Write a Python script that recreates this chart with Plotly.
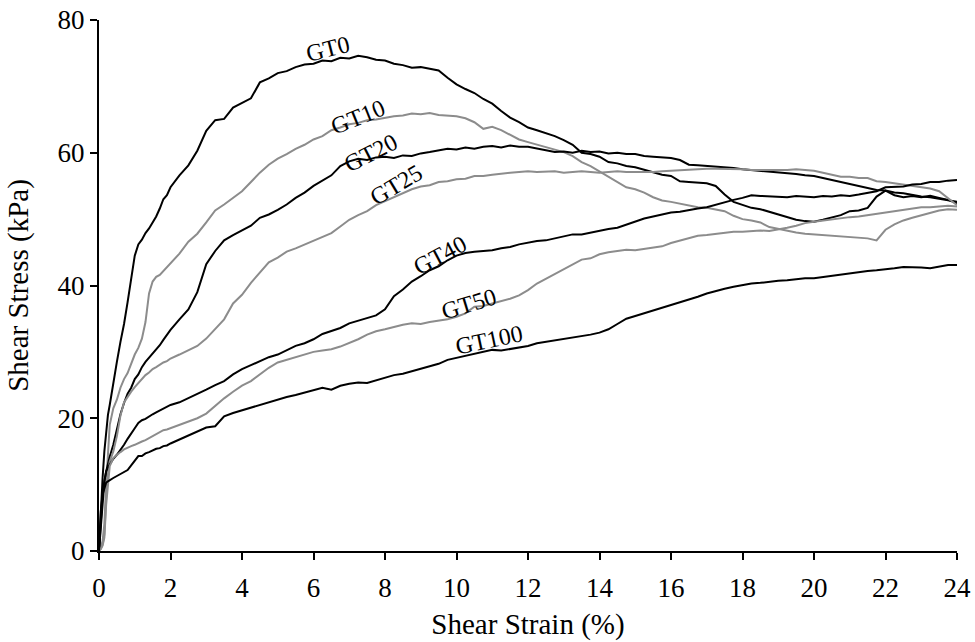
import plotly.graph_objects as go

# Shear strain (%) sampling points shared by all tests
STRAIN = [0, 0.05, 0.1, 0.15, 0.2, 0.25, 0.3, 0.4, 0.5, 0.6, 0.7, 0.8, 0.9, 1.0, 1.1, 1.2, 1.3, 1.4, 1.5, 1.6, 1.7, 1.8, 1.9,
          2.0, 2.25, 2.5, 2.75, 3.0, 3.25, 3.5, 3.75, 4.0, 4.25, 4.5, 4.75, 5.0, 5.25, 5.5, 5.75,
          6.0, 6.25, 6.5, 6.75, 7.0, 7.25, 7.5, 7.75, 8.0, 8.25, 8.5, 8.75, 9.0, 9.25, 9.5, 9.75,
          10.0, 10.25, 10.5, 10.75, 11.0, 11.25, 11.5, 11.75, 12.0, 12.25, 12.5, 12.75,
          13.0, 13.25, 13.5, 13.75, 14.0, 14.25, 14.5, 14.75, 15.0, 15.25, 15.5, 15.75,
          16.0, 16.25, 16.5, 16.75, 17.0, 17.25, 17.5, 17.75, 18.0, 18.25, 18.5, 18.75,
          19.0, 19.25, 19.5, 19.75, 20.0, 20.25, 20.5, 20.75, 21.0, 21.25, 21.5, 21.75,
          22.0, 22.25, 22.5, 22.75, 23.0, 23.25, 23.5, 23.75, 24.0]

# Shear stress (kPa) for each specimen
GT0 = [0, 6, 11, 15, 18, 20.5, 22, 25.5, 28.5, 31.5, 34.2, 37.5, 41.3, 44.5, 46.2, 46.9, 47.9, 48.6, 49.5, 50.4, 51.6, 53.0, 53.6,
       54.8, 56.6, 58.1, 60.3, 63.3, 64.9, 65.1, 66.8, 67.5, 68.2, 70.6, 71.2, 72.0, 72.3, 72.9, 73.3,
       73.4, 73.9, 73.8, 74.3, 74.2, 74.6, 74.4, 74.0, 73.9, 73.4, 73.2, 72.8, 72.9, 72.7, 72.4, 71.3,
       70.3, 69.6, 69.0, 68.1, 67.4, 66.3, 65.3, 64.6, 63.8, 63.4, 63.0, 62.5,
       61.9, 61.2, 60.0, 59.8, 59.4, 58.6, 58.4, 58.0, 57.8, 57.4, 57.0, 56.7,
       56.5, 55.7, 55.6, 55.5, 55.4, 55.0, 53.7, 52.6, 52.1, 51.7, 51.5, 51.1,
       50.6, 50.2, 49.9, 49.7, 49.6, 49.9, 50.2, 50.6, 51.2, 51.3, 51.7, 53.4,
       54.3, 53.6, 53.3, 53.5, 53.3, 53.5, 53.2, 52.9, 52.4]

GT10 = [0, 0.5, 1.5, 4, 10, 15, 19, 21.5, 22.8, 24.6, 25.9, 26.8, 28.2, 29.6, 30.6, 32.0, 34.5, 38.8, 40.6, 41.3, 41.6, 42.2, 42.8,
        43.3, 44.8, 46.6, 47.8, 49.5, 51.3, 52.2, 53.2, 54.2, 55.6, 57.0, 58.2, 59.1, 59.8, 60.6, 61.2,
        62.0, 62.5, 63.4, 63.8, 64.3, 64.5, 64.9, 65.0, 65.3, 65.5, 65.6, 65.9, 65.8, 66.0, 65.7, 65.6,
        65.5, 65.2, 64.6, 63.6, 63.9, 63.4, 62.7, 62.0, 61.6, 61.2, 60.9, 60.5,
        60.1, 59.5, 58.6, 58.0, 57.2, 56.4, 55.6, 54.8, 54.5, 54.0, 53.3, 52.8,
        52.6, 52.3, 52.1, 51.8, 51.7, 51.5, 51.2, 50.5, 50.0, 49.8, 49.5, 48.8,
        48.5, 48.2, 48.0, 47.8, 47.7, 47.6, 47.5, 47.4, 47.3, 47.2, 47.1, 46.8,
        48.4, 49.2, 49.8, 50.2, 50.6, 51.0, 51.3, 51.5, 51.4]

GT20 = [0, 4, 8, 10.5, 12, 13.3, 14.2, 16.0, 18.4, 20.6, 22.3, 23.7, 24.6, 25.9, 26.6, 27.7, 28.5, 29.1, 29.7, 30.4, 31.0, 31.8, 32.6,
        33.3, 34.9, 36.4, 39.0, 43.2, 45.2, 46.8, 47.6, 48.3, 49.0, 50.2, 50.7, 51.4, 52.2, 53.2, 54.0,
        55.0, 55.8, 56.6, 58.0, 58.7, 59.1, 58.9, 59.3, 59.4, 59.2, 59.6, 59.5, 59.9, 60.1, 60.3, 60.6,
        60.5, 60.8, 60.6, 60.9, 61.0, 60.8, 61.1, 60.9, 60.9, 60.6, 60.4, 60.1,
        60.2, 60.0, 60.3, 60.1, 60.2, 59.9, 60.0, 59.8, 59.8, 59.5, 59.4, 59.3,
        59.2, 58.9, 58.2, 58.1, 58.0, 57.9, 57.9, 57.7, 57.5, 57.4, 57.3, 57.1,
        57.1, 56.9, 56.8, 56.6, 56.5, 56.2, 55.9, 55.5, 55.2, 54.9, 54.7, 54.4,
        54.3, 54.0, 53.9, 53.6, 53.4, 53.3, 53.1, 52.9, 52.6]

GT25 = [0, 0.3, 1, 2.5, 8, 11.5, 13.5, 15.0, 17.3, 20.4, 22.4, 23.3, 24.0, 24.7, 25.3, 25.9, 26.5, 26.9, 27.4, 27.7, 28.1, 28.4, 28.6,
        29.0, 29.6, 30.2, 30.9, 32.0, 33.4, 34.9, 37.3, 38.6, 40.4, 41.9, 43.5, 44.2, 45.1, 45.6, 46.2,
        46.8, 47.4, 47.9, 48.9, 49.9, 50.6, 51.2, 52.1, 52.7, 53.3, 53.9, 54.5, 54.9, 55.1, 55.6, 55.7,
        56.0, 56.1, 56.5, 56.5, 56.7, 56.9, 57.0, 57.1, 57.2, 57.1, 57.1, 57.2,
        57.0, 57.1, 57.2, 57.1, 57.0, 57.1, 57.2, 57.1, 57.1, 57.0, 57.1, 57.2,
        57.3, 57.3, 57.4, 57.5, 57.6, 57.6, 57.6, 57.5, 57.5, 57.4, 57.4, 57.3,
        57.4, 57.4, 57.5, 57.4, 57.3, 57.0, 56.7, 56.4, 56.4, 56.2, 56.2, 55.7,
        55.6, 55.4, 55.1, 54.9, 54.7, 54.6, 54.2, 53.2, 52.1]

GT40 = [0, 5, 8.5, 10.5, 12.0, 12.6, 13.1, 13.9, 14.5, 15.2, 16.0, 16.9, 17.8, 18.5, 19.3, 19.7, 19.9, 20.3, 20.6, 20.9, 21.2, 21.4, 21.8,
        22.0, 22.4, 23.0, 23.7, 24.3, 25.0, 25.6, 26.6, 27.4, 28.0, 28.6, 29.2, 29.6, 30.3, 30.9, 31.3,
        31.9, 32.7, 33.2, 33.6, 34.3, 34.7, 35.0, 35.5, 36.4, 38.4, 39.4, 40.6, 41.4, 42.3, 42.9, 43.8,
        44.5, 44.9, 45.1, 45.2, 45.3, 45.6, 45.8, 46.2, 46.5, 46.7, 46.8, 47.1,
        47.3, 47.7, 47.7, 48.0, 48.3, 48.5, 48.7, 49.2, 49.7, 50.1, 50.4, 50.7,
        51.0, 51.1, 51.4, 51.6, 51.8, 52.2, 52.6, 52.9, 53.2, 53.6, 53.5, 53.4,
        53.4, 53.3, 53.5, 53.4, 53.3, 53.5, 53.4, 53.6, 53.5, 53.7, 53.9, 54.2,
        54.8, 54.8, 54.9, 55.2, 55.3, 55.6, 55.6, 55.8, 55.9]

GT50 = [0, 0.3, 0.8, 2, 7, 10.5, 12.8, 14.0, 14.5, 14.9, 15.3, 15.6, 15.8, 16.0, 16.3, 16.5, 16.7, 17.0, 17.3, 17.6, 17.9, 18.2, 18.3,
        18.5, 19.0, 19.4, 20.0, 20.7, 21.9, 23.0, 24.0, 24.9, 25.6, 26.6, 27.6, 28.4, 28.8, 29.2, 29.6,
        30.0, 30.2, 30.4, 30.8, 31.3, 31.9, 32.6, 33.1, 33.4, 33.8, 34.1, 34.3, 34.2, 34.5, 34.7, 34.9,
        35.3, 35.8, 36.8, 36.9, 37.3, 37.6, 38.0, 38.5, 39.3, 40.3, 41.0, 41.8,
        42.5, 43.2, 43.9, 44.1, 44.7, 45.0, 45.2, 45.4, 45.3, 45.5, 45.6, 45.9,
        46.4, 46.8, 47.2, 47.5, 47.6, 47.8, 47.9, 48.1, 48.1, 48.2, 48.3, 48.2,
        48.4, 48.7, 49.0, 49.4, 49.6, 49.8, 49.9, 50.1, 50.3, 50.4, 50.6, 50.8,
        51.1, 51.3, 51.4, 51.6, 51.8, 51.8, 51.9, 52.0, 51.9]

GT100 = [0, 6, 8.5, 9.6, 10.3, 10.5, 10.7, 11.0, 11.3, 11.6, 11.9, 12.2, 12.9, 13.6, 14.3, 14.3, 14.7, 14.9, 15.2, 15.4, 15.5, 15.8, 15.9,
         16.2, 16.8, 17.4, 18.0, 18.6, 18.8, 20.3, 20.8, 21.2, 21.6, 22.1, 22.4, 22.8, 23.2, 23.5, 23.9,
         24.3, 24.6, 24.3, 24.9, 25.2, 25.4, 25.3, 25.7, 26.1, 26.5, 26.7, 27.1, 27.4, 27.8, 28.2, 28.8,
         29.1, 29.5, 29.8, 30.0, 30.3, 30.2, 30.4, 30.7, 30.9, 31.3, 31.5, 31.8,
         32.0, 32.2, 32.3, 32.6, 32.9, 33.4, 34.2, 35.0, 35.4, 35.8, 36.2, 36.6,
         37.0, 37.5, 37.9, 38.3, 38.8, 39.2, 39.5, 39.8, 40.1, 40.3, 40.4, 40.6,
         40.7, 40.8, 41.0, 41.1, 41.1, 41.3, 41.4, 41.6, 41.8, 42.0, 42.2, 42.3,
         42.4, 42.6, 42.8, 42.8, 42.7, 42.6, 42.9, 43.1, 43.1]

SERIES = ["GT0", "GT10", "GT20", "GT25", "GT40", "GT50", "GT100"]
VALUES = [GT0, GT10, GT20, GT25, GT40, GT50, GT100]
COLORS = ["#000000", "#8c8c8c", "#000000", "#8c8c8c", "#000000", "#8c8c8c", "#000000"]

# Inline curve labels: position (strain, stress) and text rotation
LABEL_X = [6.4, 7.25, 7.6, 8.3, 9.55, 10.35, 10.9]
LABEL_Y = [75.6, 65.4, 59.9, 55.2, 44.6, 37.2, 31.8]
LABEL_ANGLE = [-14, -22, -27, -31, -28, -17, -12]

FONT = "Liberation Serif, Times New Roman, serif"

fig = go.Figure()
for name, vals, col in zip(SERIES, VALUES, COLORS):
    assert len(vals) == len(STRAIN), name
    fig.add_trace(go.Scatter(x=STRAIN, y=vals, mode="lines", name=name,
                             line=dict(color=col, width=2)))

for name, lx, ly, ang in zip(SERIES, LABEL_X, LABEL_Y, LABEL_ANGLE):
    fig.add_annotation(x=lx, y=ly, text=name, showarrow=False, textangle=ang,
                       xanchor="center", yanchor="middle",
                       font=dict(family=FONT, size=24, color="black"))

axis_common = dict(showline=True, linecolor="black", linewidth=2, ticks="outside",
                   ticklen=7, tickwidth=2, tickcolor="black", showgrid=False,
                   zeroline=False, automargin=False,
                   tickfont=dict(family=FONT, size=27, color="black"))

fig.update_layout(
    width=975, height=642,
    margin=dict(l=99, r=18, t=20, b=91),
    paper_bgcolor="white", plot_bgcolor="white",
    showlegend=False,
    xaxis=dict(range=[0, 24], dtick=2, tick0=0, ticklabelstandoff=5,
               title=dict(text="Shear Strain (%)", font=dict(family=FONT, size=29, color="black"), standoff=11),
               **axis_common),
    yaxis=dict(range=[0, 80], dtick=20, tick0=0,
               title=dict(text="Shear Stress (kPa)", font=dict(family=FONT, size=29, color="black"), standoff=20),
               **axis_common),
)

fig.write_html("out.html")
